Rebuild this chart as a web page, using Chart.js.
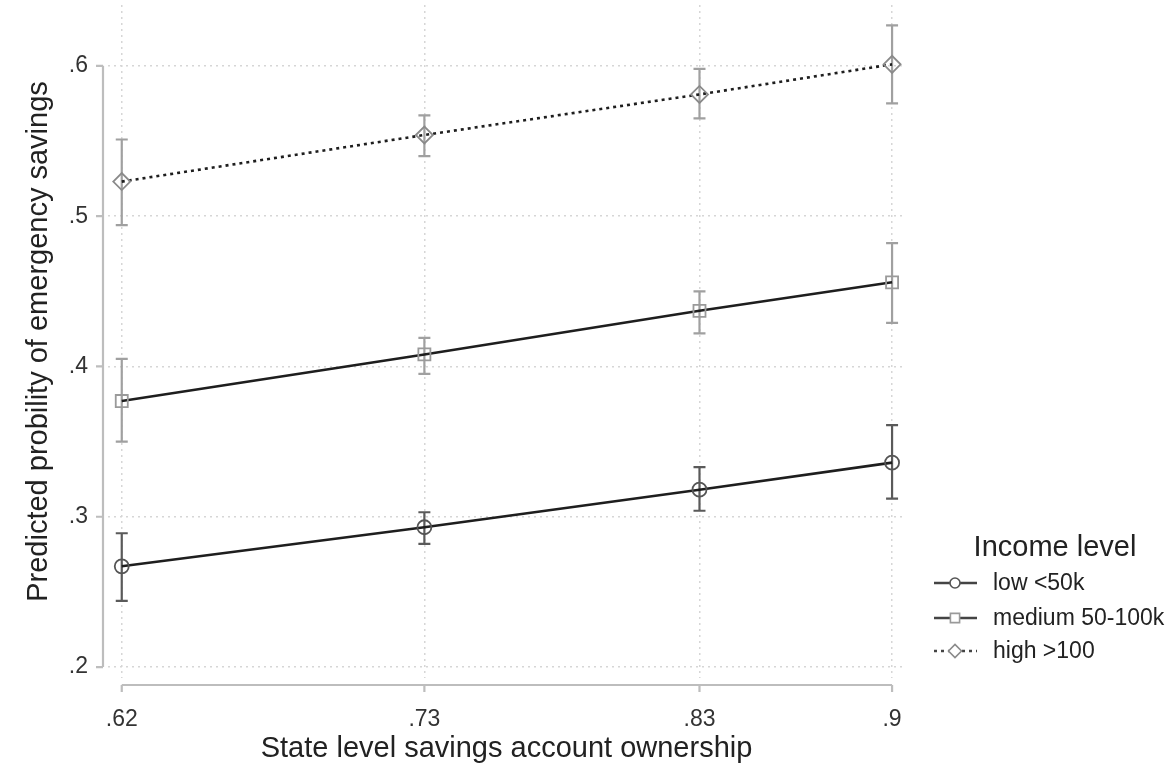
<!DOCTYPE html>
<html>
<head>
<meta charset="utf-8">
<title>Predicted probability of emergency savings</title>
<script src="https://cdn.jsdelivr.net/npm/chart.js@4.4.0/dist/chart.umd.min.js"></script>
<style>
    html, body { margin: 0; padding: 0; background: #fff; }
    #wrap { width: 1175px; height: 773px; position: relative; }
</style>
</head>
<body>
<div id="wrap"><canvas id="chart"></canvas></div>
<script>
// ---------- data ----------
const xValues = [0.62, 0.73, 0.83, 0.9];
const xTicks = [0.62, 0.73, 0.83, 0.9];
const yTicks = [0.2, 0.3, 0.4, 0.5, 0.6];

const seriesNames = ["low <50k", "medium 50-100k", "high >100"];

const lowMean = [0.267, 0.293, 0.318, 0.336];
const lowLower = [0.244, 0.282, 0.304, 0.312];
const lowUpper = [0.289, 0.303, 0.333, 0.361];

const medMean = [0.377, 0.408, 0.437, 0.456];
const medLower = [0.350, 0.395, 0.422, 0.429];
const medUpper = [0.405, 0.419, 0.450, 0.482];

const highMean = [0.523, 0.554, 0.581, 0.601];
const highLower = [0.494, 0.540, 0.565, 0.575];
const highUpper = [0.551, 0.567, 0.598, 0.627];

const FONT = "'Liberation Sans', Arial, sans-serif";

// ---------- helpers ----------
function toPoints(ys) {
    return xValues.map((x, i) => ({ x: x, y: ys[i] }));
}

function fmtTick(v) {
    return String(Math.round(v * 100) / 100).replace(/^0\./, ".");
}

// style per series: line colour, marker colour, whisker colour, marker, dash
const styles = [
    { line: "#1e1e1e", marker: "#555", bar: "#5a5a5a", point: "circle", size: 7, dash: [] },
    { line: "#1e1e1e", marker: "#9a9a9a", bar: "#a0a0a0", point: "rect", size: 8.5, dash: [] },
    { line: "#1e1e1e", marker: "#8a8a8a", bar: "#a0a0a0", point: "rectRot", size: 8.5, dash: [3, 4] }
];

const bounds = [
    { lo: lowLower, hi: lowUpper },
    { lo: medLower, hi: medUpper },
    { lo: highLower, hi: highUpper }
];

// ---------- error bars (drawn before the lines/markers) ----------
const errorBars = {
    id: "errorBars",
    beforeDatasetsDraw(chart) {
        const ctx = chart.ctx;
        const xs = chart.scales.x, ys = chart.scales.y;
        ctx.save();
        bounds.forEach((b, s) => {
            ctx.strokeStyle = styles[s].bar;
            ctx.lineWidth = 2.2;
            xValues.forEach((xv, i) => {
                const px = xs.getPixelForValue(xv);
                const top = ys.getPixelForValue(b.hi[i]);
                const bot = ys.getPixelForValue(b.lo[i]);
                ctx.beginPath();
                ctx.moveTo(px, top); ctx.lineTo(px, bot);
                ctx.moveTo(px - 6, top); ctx.lineTo(px + 6, top);
                ctx.moveTo(px - 6, bot); ctx.lineTo(px + 6, bot);
                ctx.stroke();
            });
        });
        ctx.restore();
    }
};

// ---------- Stata-style offset axes + legend ----------
const axesAndLegend = {
    id: "axesAndLegend",
    afterDraw(chart) {
        const ctx = chart.ctx;
        const xs = chart.scales.x, ys = chart.scales.y;
        ctx.save();
        ctx.strokeStyle = "#bdbdbd";
        ctx.lineWidth = 2.2;

        // y axis
        const ax = 103;
        ctx.beginPath();
        ctx.moveTo(ax, ys.getPixelForValue(yTicks[0]));
        ctx.lineTo(ax, ys.getPixelForValue(yTicks[yTicks.length - 1]));
        yTicks.forEach(t => {
            const py = ys.getPixelForValue(t);
            ctx.moveTo(ax - 7, py); ctx.lineTo(ax, py);
        });
        ctx.stroke();

        // x axis
        const ay = 685;
        ctx.beginPath();
        ctx.moveTo(xs.getPixelForValue(xTicks[0]), ay);
        ctx.lineTo(xs.getPixelForValue(xTicks[xTicks.length - 1]), ay);
        xTicks.forEach(t => {
            const px = xs.getPixelForValue(t);
            ctx.moveTo(px, ay); ctx.lineTo(px, ay + 7);
        });
        ctx.stroke();

        // legend
        ctx.fillStyle = "#222";
        ctx.font = "29px " + FONT;
        ctx.textAlign = "center";
        ctx.textBaseline = "middle";
        ctx.fillText("Income level", 1055, 548);

        ctx.font = "23px " + FONT;
        ctx.textAlign = "left";
        const rows = [583, 618, 651];
        seriesNames.forEach((name, s) => {
            const y = rows[s];
            ctx.strokeStyle = "#444";
            ctx.lineWidth = 2.5;
            ctx.setLineDash(styles[s].dash);
            ctx.beginPath();
            ctx.moveTo(934, y); ctx.lineTo(977, y);
            ctx.stroke();
            ctx.setLineDash([]);
            ctx.fillStyle = "#fff";
            ctx.strokeStyle = styles[s].marker;
            ctx.lineWidth = 1.6;
            Chart.helpers.drawPoint(ctx, { pointStyle: styles[s].point, radius: styles[s].size - 2, borderWidth: 1.6 }, 955, y);
            ctx.fillStyle = "#222";
            ctx.fillText(name, 993, y + 1);
        });
        ctx.restore();
    }
};

// ---------- chart ----------
const datasets = [lowMean, medMean, highMean].map((ys, s) => ({
    label: seriesNames[s],
    data: toPoints(ys),
    showLine: true,
    borderColor: styles[s].line,
    borderWidth: 2.6,
    borderDash: styles[s].dash,
    pointStyle: styles[s].point,
    pointRadius: styles[s].size,
    pointBorderWidth: 1.8,
    pointBorderColor: styles[s].marker,
    pointBackgroundColor: "rgba(255,255,255,0)",
    tension: 0
}));

const gridStyle = {
    color: "#d6d6d6",
    lineWidth: 1.5,
    drawTicks: false
};

new Chart(document.getElementById("chart"), {
    type: "line",
    data: { datasets: datasets },
    options: {
        responsive: true,
        maintainAspectRatio: false,
        animation: false,
        layout: { autoPadding: false, padding: { top: 5, right: 270, left: 0, bottom: 0 } },
        plugins: {
            legend: { display: false },
            tooltip: { enabled: false }
        },
        scales: {
            x: {
                type: "linear",
                min: 0.615,
                max: 0.9047,
                afterBuildTicks: s => { s.ticks = xTicks.map(v => ({ value: v })); },
                afterFit: s => { s.height = 95; s.paddingLeft = 0; s.paddingRight = 0; },
                grid: gridStyle,
                border: { display: false, dash: [2, 4] },
                ticks: {
                    autoSkip: false,
                    maxRotation: 0,
                    padding: 28,
                    color: "#333",
                    font: { family: FONT, size: 23 },
                    callback: v => fmtTick(v)
                },
                title: {
                    display: true,
                    text: "State level savings account ownership",
                    color: "#222",
                    font: { family: FONT, size: 29 },
                    padding: { top: 0, bottom: 7 }
                }
            },
            y: {
                type: "linear",
                min: 0.1927,
                max: 0.6405,
                afterBuildTicks: s => { s.ticks = yTicks.map(v => ({ value: v })); },
                afterFit: s => { s.width = 108; s.paddingTop = 0; s.paddingBottom = 0; },
                grid: gridStyle,
                border: { display: false, dash: [2, 4] },
                ticks: {
                    autoSkip: false,
                    padding: 20,
                    color: "#333",
                    font: { family: FONT, size: 23 },
                    callback: v => fmtTick(v)
                },
                title: {
                    display: true,
                    text: "Predicted probility of emergency savings",
                    color: "#222",
                    font: { family: FONT, size: 29 },
                    padding: { top: 22, bottom: 0 }
                }
            }
        }
    },
    plugins: [errorBars, axesAndLegend]
});
</script>
</body>
</html>
